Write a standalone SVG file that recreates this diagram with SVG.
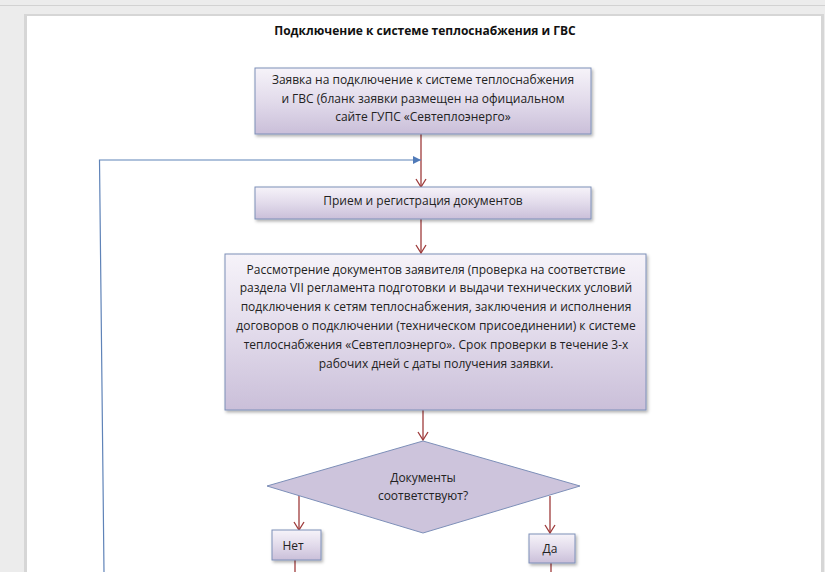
<svg xmlns="http://www.w3.org/2000/svg" width="825" height="572" viewBox="0 0 825 572">
<defs>
<linearGradient id="g" x1="0" y1="0" x2="0" y2="1">
<stop offset="0" stop-color="#f6f3f9"/>
<stop offset="0.5" stop-color="#e2dbeb"/>
<stop offset="1" stop-color="#cabfd9"/>
</linearGradient>
<filter id="sh" x="-10%" y="-10%" width="130%" height="140%">
<feDropShadow dx="1.5" dy="2" stdDeviation="1.5" flood-color="#000" flood-opacity="0.3"/>
</filter>
<marker id="ar" markerWidth="12" markerHeight="12" refX="10" refY="6" orient="auto" markerUnits="userSpaceOnUse" viewBox="0 0 12 12">
<path d="M2 1 L10 6 L2 11" fill="none" stroke="#9e3b3b" stroke-width="1.3"/>
</marker>
<marker id="ab" markerWidth="10" markerHeight="10" refX="9" refY="5" orient="auto" markerUnits="userSpaceOnUse" viewBox="0 0 10 10">
<path d="M1 1 L9 5 L1 9 Z" fill="#4f7ab8"/>
</marker>
</defs>
<style>
.t{font-family:"Open Sans","Noto Sans",sans-serif;font-size:12px;fill:#222;text-anchor:middle}
.b{fill:url(#g);stroke:#7d8fb8;stroke-width:1;filter:url(#sh)}
.c{stroke:#9e3b3b;stroke-width:1.3;fill:none}
</style>
<rect width="825" height="572" fill="#ececec"/>
<line x1="0" y1="5.5" x2="825" y2="5.5" stroke="#d2d2d2" stroke-width="1"/>
<rect x="24" y="14" width="800" height="570" fill="#d6d6d6"/>
<rect x="27" y="16" width="794" height="560" fill="#ffffff"/>
<text x="425" y="35" style="font-family:'Open Sans','Noto Sans',sans-serif;font-size:12px;font-weight:bold;fill:#111;text-anchor:middle">Подключение к системе теплоснабжения и ГВС</text>

<g id="connectors">
<line class="c" x1="421" y1="134" x2="421" y2="187" marker-end="url(#ar)"/>
<line class="c" x1="421" y1="219" x2="421" y2="253" marker-end="url(#ar)"/>
<line class="c" x1="423" y1="410" x2="423" y2="440" marker-end="url(#ar)"/>
<line class="c" x1="299" y1="496" x2="299" y2="530" marker-end="url(#ar)"/>
<line class="c" x1="550" y1="496" x2="550" y2="533" marker-end="url(#ar)"/>
<line class="c" x1="295" y1="560" x2="295" y2="572"/>
<line class="c" x1="551" y1="563" x2="551" y2="572"/>
<polyline points="104,572 99.5,160 421,160" fill="none" stroke="#5f83b8" stroke-width="1.2" marker-end="url(#ab)"/>
</g>

<g id="n1">
<rect class="b" x="255" y="68" width="336" height="66"/>
<text class="t" x="423" y="84">Заявка на подключение к системе теплоснабжения</text>
<text class="t" x="423" y="103">и ГВС (бланк заявки размещен на официальном</text>
<text class="t" x="423" y="121">сайте ГУПС «Севтеплоэнерго»</text>
</g>
<g id="n2">
<rect class="b" x="255" y="187" width="336" height="32"/>
<text class="t" x="423" y="205">Прием и регистрация документов</text>
</g>
<g id="n3">
<rect class="b" x="225" y="254" width="421" height="156"/>
<text class="t" x="436" y="274">Рассмотрение документов заявителя (проверка на соответствие</text>
<text class="t" x="436" y="292">раздела VII регламента подготовки и выдачи технических условий</text>
<text class="t" x="436" y="311">подключения к сетям теплоснабжения, заключения и исполнения</text>
<text class="t" x="436" y="330">договоров о подключении (техническом присоединении) к системе</text>
<text class="t" x="436" y="349">теплоснабжения «Севтеплоэнерго». Срок проверки в течение 3-х</text>
<text class="t" x="436" y="368">рабочих дней с даты получения заявки.</text>
</g>
<g id="n4">
<polygon points="423,441 580,486 423,533 267,486" fill="#cdc4dc" stroke="#7d8fb8" stroke-width="1"/>
<text class="t" x="423" y="482">Документы</text>
<text class="t" x="423" y="500">соответствуют?</text>
</g>
<g id="n5">
<rect class="b" x="272" y="530" width="49" height="30"/>
<text class="t" x="293" y="550">Нет</text>
</g>
<g id="n6">
<rect class="b" x="529" y="534" width="46" height="29"/>
<text class="t" x="550" y="553">Да</text>
</g>
</svg>
